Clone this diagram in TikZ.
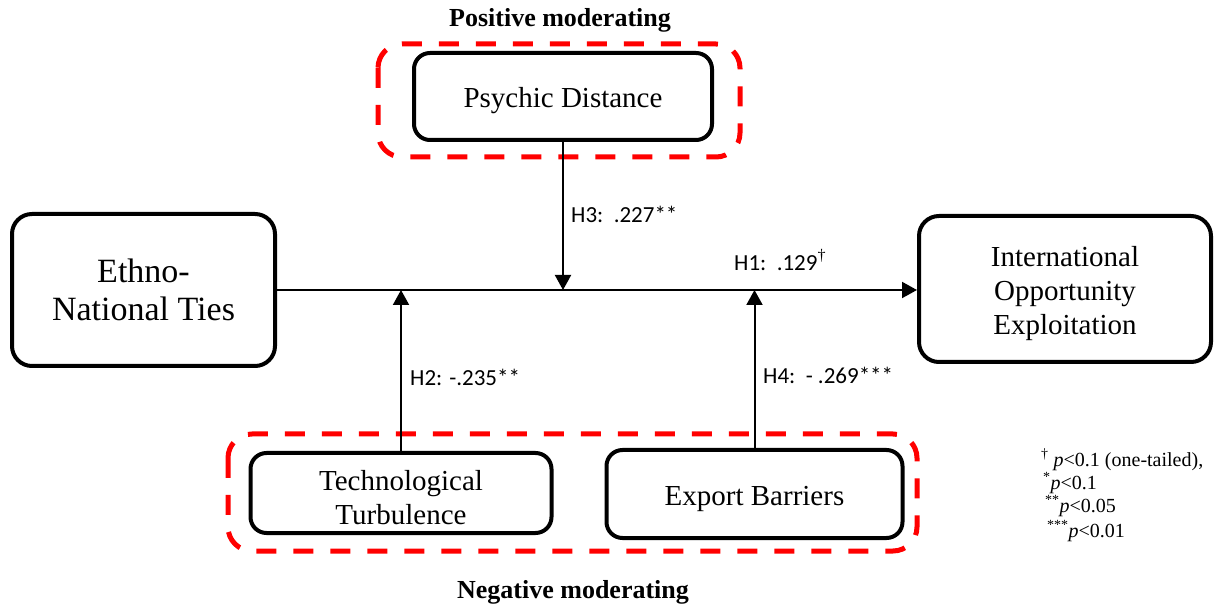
\documentclass[tikz,border=0pt]{standalone}
\usepackage{fontspec}
\setmainfont{Liberation Serif}
\newfontfamily\calfont{Carlito}
\usetikzlibrary{arrows.meta}
\newcommand{\dn}{\rule{0pt}{29pt}}
\tikzset{
  varbox/.style={draw=black, line width=4pt, rounded corners=20pt, align=center, inner sep=0pt,
    font=\fontsize{29}{34}\selectfont},
  redgroup/.style={draw=red, line width=5pt, dash pattern=on 20pt off 17pt, rounded corners=24pt},
  conn/.style={draw=black, line width=2pt},
  tip/.style={-{Triangle[length=15pt,width=16pt]}},
  lbl/.style={anchor=west, inner sep=0pt, font=\calfont\fontsize{23}{27}\selectfont},
  head/.style={inner sep=0pt, font=\bfseries\fontsize{26}{30}\selectfont},
  note/.style={anchor=west, inner sep=0pt, font=\fontsize{20}{22}\selectfont}
}
\begin{document}
\begin{tikzpicture}[x=1pt,y=-1pt]
\useasboundingbox (0,0) rectangle (1219,609);
% groups
\draw[redgroup] (378,44) rectangle (740,157);
\draw[redgroup] (228,434) rectangle (917,551);
% nodes
\node[varbox, minimum width=263pt, minimum height=152pt, font=\fontsize{34}{38}\selectfont] (ethno) at (143.5,290) {Ethno-\\National Ties};
\node[varbox, minimum width=292pt, minimum height=146pt] (intl) at (1065,289) {\dn International\\Opportunity\\Exploitation};
\node[varbox, rounded corners=16pt, minimum width=298pt, minimum height=87pt] (psy) at (563,96.5) {\dn Psychic Distance};
\node[varbox, rounded corners=16pt, minimum width=301pt, minimum height=80pt] (tech) at (401,493) {\dn Technological\\Turbulence};
\node[varbox, rounded corners=16pt, minimum width=296pt, minimum height=88pt] (exp) at (754.5,494) {\dn Export Barriers};
% connectors
\coordinate (mainend) at (ethno.east -| intl.west);
\draw[conn, tip] (ethno.east) -- (mainend);
\draw[conn, tip] (psy.south) -- (psy.south |- ethno.east);
\draw[conn, tip] (tech.north) -- (tech.north |- ethno.east);
\draw[conn, tip] (exp.north) -- (exp.north |- ethno.east);
% labels
\node[lbl] (h3) at (571,214) {H3:\ \ .227**};
\node[lbl] (h1) at (734,260) {H1:\ \ .129\textsuperscript{\rmfamily\dag}};
\node[lbl] (h2) at (410,377) {H2: -.235**};
\node[lbl] (h4) at (763,375) {H4:\ \ - .269***};
% headings
\node[head] (poshead) at (560,20) {Positive moderating};
\node[head] (neghead) at (573,592) {Negative moderating};
% notes
\node[note] (n1) at (1041,460) {\textsuperscript{\dag} \textit{p}<0.1 (one-tailed),};
\node[note] (n2) at (1043,483) {\textsuperscript{*}\textit{p}<0.1};
\node[note] (n3) at (1045,506) {\textsuperscript{**}\textit{p}<0.05};
\node[note] (n4) at (1047,531) {\textsuperscript{***}\textit{p}<0.01};
\end{tikzpicture}
\end{document}
